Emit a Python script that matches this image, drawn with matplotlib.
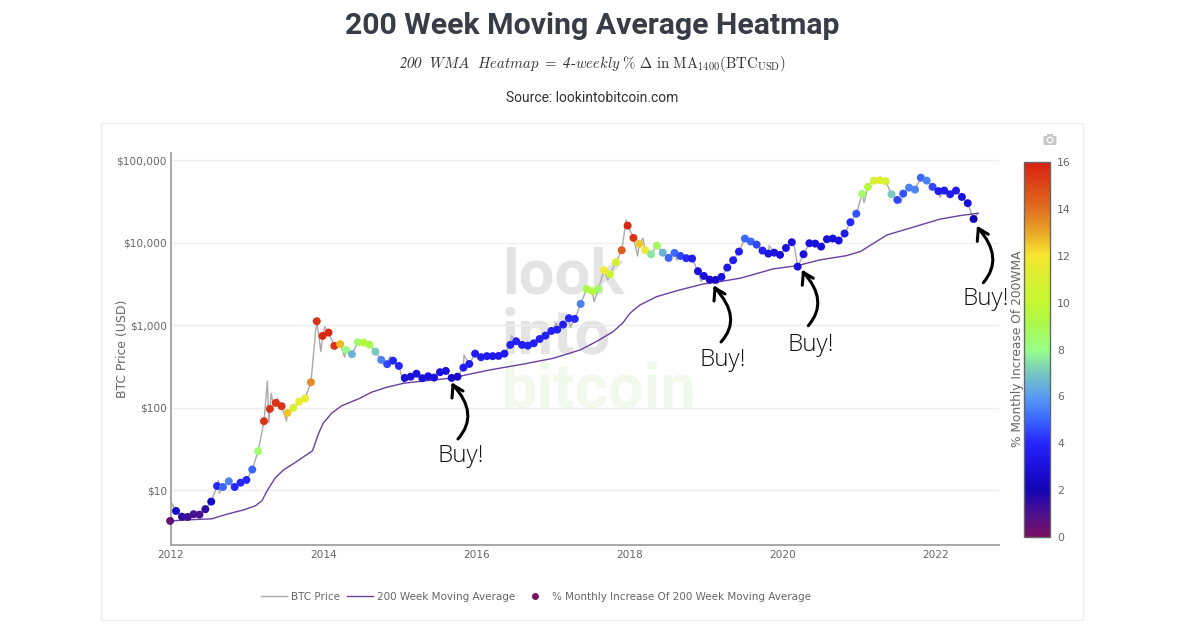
import numpy as np
import pandas as pd
import matplotlib
matplotlib.use("Agg")
import matplotlib.pyplot as plt
from matplotlib.colors import LinearSegmentedColormap
from matplotlib.lines import Line2D
from matplotlib.patches import PathPatch, Rectangle, FancyBboxPatch, Circle
from matplotlib.path import Path
from matplotlib.ticker import FixedLocator, FixedFormatter, NullLocator
from matplotlib.transforms import Affine2D

# ---------- data ----------
dot_dates = pd.date_range("2011-12-28", periods=138, freq="28D")
dot_price = [4.27,5.64,4.81,4.77,5.15,5.09,5.92,7.32,11.3,11.0,12.9,11.0,12.4,13.4,17.9,29.9,69.0,97.3,115,105,
             86.9,100,119,130,205,1125,746,819,565,592,505,448,625,619,585,481,382,339,374,323,
             231,239,260,229,242,233,271,281,231,239,308,341,455,412,424,424,427,455,581,643,
             581,569,608,685,752,857,889,1023,1223,1200,1824,2769,2600,2769,4667,4178,5834,8166,16200,11500,
             9730,8166,7290,9270,7620,6580,7570,6950,6530,6460,4540,3980,3590,3560,3870,5020,6170,7850,11300,10400,
             9540,8070,7420,7620,7160,8690,10200,5160,7290,9910,9810,9020,11100,11300,10700,13000,17800,22600,39300,47800,
             56900,57500,56000,38900,33200,39600,46800,44300,61800,56900,47800,42400,43100,38900,43100,36100,30300,19500]
dot_pct = [0.5,2.5,1.5,1.2,1,1,1.5,2.5,4,5,5.5,4,4,4,5,8.5,15.5,15.5,15.5,15.5,
           12.5,11,11.5,11.5,13.5,15.5,15.8,15.8,15.5,12.7,8,6.5,8.5,9.5,9,7,5.5,4.5,4,4,
           3,3,3,3,3,3,3,3,2.5,2.5,3.5,3.5,3.5,3.5,3.5,3.5,3.5,3.5,3.7,3.7,
           3.7,3.7,3.7,3.7,3.7,3.7,3.7,3.7,4,4,5.5,9,9.5,8.5,11.8,10.5,11,14.5,15.8,15.5,
           12.5,11.5,7.5,8.7,6.5,5,5,4.5,4,3.5,3,3,2.5,2.5,3,3.3,3.5,3.5,5,5,
           4.5,3.7,3.2,3.2,3,3,3,3,3,3,3,3,3,3,3,3.5,4,4.7,8.5,9.5,
           11,11.3,10.7,7,4.5,4.7,5.5,5.5,5,5.5,4.5,3.5,3.5,3.5,3.5,3,3,2]

spike_year = [2012.01,2012.62,2012.63,2013.26,2013.28,2013.31,2013.34,2013.39,2013.51,2013.89,2013.96,2014.01,
              2014.27,2014.86,2015.04,2015.83,2016.45,2017.04,2017.22,2017.53,2017.71,2017.95,2018.10,2018.17,
              2018.61,2018.93,2019.82,2020.15,2021.06,2021.54,2022.05,2022.55]
spike_price = [7.0,13.2,9.25,212,66.4,151,104,131,69.5,841,481,966,
               412,419,199,438,747,1064,951,1940,3565,19000,6950,11400,
               6220,3400,9270,9020,30800,30300,35800,22900]

wma_year = [2012.0,2012.29,2012.53,2012.73,2012.95,2013.10,2013.19,2013.25,2013.36,2013.47,2013.64,2013.85,2013.93,
            2013.99,2014.10,2014.23,2014.47,2014.62,2014.82,2015.04,2015.34,2015.65,2015.82,2016.17,2016.60,2017.00,
            2017.35,2017.56,2017.78,2017.91,2018.0,2018.13,2018.35,2018.65,2018.96,2019.13,2019.44,2019.53,2019.87,
            2020.19,2020.48,2020.83,2021.01,2021.36,2021.70,2022.05,2022.31,2022.55]
wma_price = [4.27,4.43,4.52,5.15,5.81,6.49,7.52,9.67,14.1,17.7,22.3,30.3,49.3,
             65.3,86.3,106,131,155,178,199,214,229,247,289,339,400,
             505,637,841,1081,1406,1770,2234,2692,3184,3342,3733,3935,4840,
             5308,6220,7010,7850,12500,15500,19400,21400,22900]

x_ticks = [2012,2014,2016,2018,2020,2022]
y_ticks = [10,100,1000,10000,100000]
y_labels = ["$10","$100","$1,000","$10,000","$100,000"]
cbar_ticks = [0,2,4,6,8,10,12,14,16]

scale_stops = [0,1,2,3,4,5,6,7,8,9,10,11,12,13,14,15,16]
scale_colors = ["#7a0f62","#4a1090","#1404b4","#1a10dc","#2626ff","#3a66ff","#5a9cf0","#78c8c0","#98ff88",
                "#a8f850","#c4f830","#d8f030","#f8e830","#e8a828","#e07020","#dc4818","#d82010"]

W, H = 1200, 627
TXT = "#666666"

plt.rcParams["mathtext.fontset"] = "custom"
plt.rcParams["mathtext.rm"] = "cmr10"
plt.rcParams["mathtext.it"] = "cmmi10"
plt.rcParams["mathtext.sf"] = "STIXGeneral:italic"
plt.rcParams["mathtext.fallback"] = "cm"

fig = plt.figure(figsize=(W/100, H/100), dpi=100, facecolor="white")
pix = Affine2D().scale(1/W, -1/H).translate(0, 1) + fig.transFigure

def axrect(l, t, r, b):
    return [l/W, 1-b/H, (r-l)/W, (b-t)/H]

fig.add_artist(Rectangle((101,123), 982, 497, transform=pix, fc="white", ec="#ececec", lw=1, zorder=-5))

ax = fig.add_axes(axrect(171,153,999,545), facecolor="none")
years = 2012 + (dot_dates - pd.Timestamp("2012-01-01")).days.to_numpy()/365.25
px = np.concatenate([years, spike_year])
py = np.concatenate([dot_price, spike_price])
o = np.argsort(px)

cmap = LinearSegmentedColormap.from_list("heat", [(s/16, c) for s, c in zip(scale_stops, scale_colors)])

# watermark
ax.text(502, 353, "look\ninto", transform=pix, family="Roboto", weight="bold", fontsize=45.5, color="#e4e4e4",
        va="baseline", ha="left", zorder=0.5, clip_on=False, linespacing=0.98)
ax.text(502, 407, "bitcoin", transform=pix, family="Roboto", weight="bold", fontsize=45.5, color="#f0f9ec",
        va="baseline", ha="left", zorder=0.5, clip_on=False)

price_line, = ax.plot(px[o], py[o], color="#aaaaaa", lw=1, zorder=2, label="BTC Price")
wma_line, = ax.plot(wma_year, wma_price, color="#6b3fa0", lw=1, zorder=3, label="200 Week Moving Average")
sc = ax.scatter(years, dot_price, c=dot_pct, cmap=cmap, vmin=0, vmax=16, s=33, linewidths=0, zorder=4, clip_on=False)

ax.set_yscale("log")
ax.set_xlim(2012, 2012+828/76.5)
ax.set_ylim(2.18, 123000)
ax.yaxis.set_major_locator(FixedLocator(y_ticks))
ax.yaxis.set_major_formatter(FixedFormatter(y_labels))
ax.yaxis.set_minor_locator(NullLocator())
ax.set_xticks(x_ticks)
ax.set_xticklabels([str(v) for v in x_ticks])
ax.grid(axis="y", color="#eeeeee", lw=1)
ax.set_axisbelow(True)
ax.tick_params(length=0, colors=TXT, labelsize=7.6)
ax.tick_params(axis="y", pad=3)
ax.tick_params(axis="x", pad=3.5)
for s in ["top","right"]:
    ax.spines[s].set_visible(False)
for s in ["left","bottom"]:
    ax.spines[s].set_color("#a8a8a8")
    ax.spines[s].set_linewidth(1.4)

fig.text(123/W, 1-349/H, "BTC Price (USD)", rotation=90, ha="center", va="center", fontsize=8.9, color=TXT)

# colour bar
cax = fig.add_axes(axrect(1024,162,1050,537))
cb = fig.colorbar(sc, cax=cax)
cb.set_ticks(cbar_ticks)
cb.ax.tick_params(length=0, labelsize=7.8, colors=TXT, pad=5)
cb.outline.set_edgecolor("#666666")
cb.outline.set_linewidth(1)
fig.text(1017/W, 1-349/H, "% Monthly Increase Of 200WMA", rotation=90, ha="center", va="center", fontsize=8.85, color=TXT)

# legend
dot_handle = Line2D([], [], ls="none", marker="o", ms=5, mfc="#7a0f62", mec="none")
leg = fig.legend([price_line, wma_line, dot_handle],
                 ["BTC Price","200 Week Moving Average","% Monthly Increase Of 200 Week Moving Average"],
                 loc="center", bbox_to_anchor=(536/W, 1-597/H), ncol=3, frameon=False, fontsize=7.5,
                 handlelength=2.5, handletextpad=0.4, columnspacing=0.65, labelcolor=TXT, borderpad=0)

# titles
fig.text(592/W, 1-26/H, "200 Week Moving Average Heatmap", ha="center", va="center",
         family="Roboto", weight="bold", fontsize=21.8, color="#373c47")
fig.text(592.5/W, 1-64/H, r"$\mathsf{200}\ \ \mathit{WMA}\ \ \mathit{Heatmap}\ =\ \mathsf{4}\text{-}\mathit{weekly}\ \%\ \Delta\ \mathrm{in}\ \mathrm{MA}_{1400}(\mathrm{BTC}_{\mathrm{USD}})$",
         ha="center", va="center", fontsize=10.6, color="#333333")
fig.text(592/W, 1-98/H, "Source: lookintobitcoin.com", ha="center", va="center",
         family="Roboto", fontsize=10.0, color="#333333")

# hand-drawn arrows
def arrow(tail, ctrl, head):
    hx, hy = head
    verts = [tail, ctrl, head, (hx-1, hy+13), head, (hx+10, hy+6)]
    codes = [Path.MOVETO, Path.CURVE3, Path.CURVE3, Path.LINETO, Path.MOVETO, Path.LINETO]
    fig.add_artist(PathPatch(Path(verts, codes), transform=pix, fc="none", ec="black", lw=2.2,
                             capstyle="round", joinstyle="round", zorder=6))

arrow((458,439),(480,414),(453,385))
arrow((721,342),(743,318),(715,288))
arrow((808.3,325.7),(829.6,301),(803.3,272.3))
arrow((983.3,282.7),(1004.6,257.9),(978.3,228.3))
for x0, y0 in [(461,456),(723,360),(811,345),(986,299)]:
    fig.text(x0/W, 1-y0/H, "Buy!", ha="center", va="center", family="Open Sans", weight="light",
             fontsize=17.5, color="#111111", zorder=6)

# camera icon
fig.add_artist(FancyBboxPatch((1043.5,136), 13, 9, boxstyle="round,pad=0,rounding_size=1.5", transform=pix, fc="#c8c8c8", ec="none"))
fig.add_artist(Rectangle((1047,134), 6, 2.5, transform=pix, fc="#c8c8c8", ec="none"))
fig.add_artist(Circle((1050,140), 3.4, transform=pix, fc="white", ec="none"))
fig.add_artist(Circle((1050,140), 2.2, transform=pix, fc="#c8c8c8", ec="none"))

fig.savefig("out.png", dpi=100, facecolor="white")
